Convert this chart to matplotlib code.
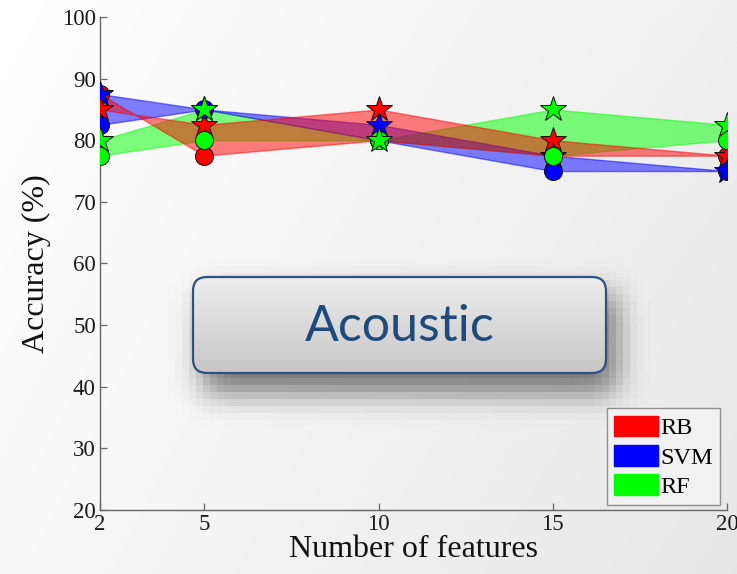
import numpy as np
import matplotlib
matplotlib.use("Agg")
import matplotlib.pyplot as plt
from matplotlib.patches import FancyBboxPatch, Patch

# ---- data -------------------------------------------------------------
n_features = [2, 5, 10, 15, 20]
rb_circle = [87.5, 77.5, 80.0, 77.5, 77.5]
rb_star = [85.0, 82.5, 85.0, 80.0, 77.5]
svm_circle = [82.5, 85.0, 80.0, 75.0, 75.0]
svm_star = [87.5, 85.0, 82.5, 77.5, 75.0]
rf_circle = [77.5, 80.0, 80.0, 77.5, 80.0]
rf_star = [80.0, 85.0, 80.0, 85.0, 82.5]
series_names = ["RB", "SVM", "RF"]
y_ticks = [20, 30, 40, 50, 60, 70, 80, 90, 100]
title_text = "Acoustic"

W, H, DPI = 737, 574, 100
fig = plt.figure(figsize=(W / DPI, H / DPI), dpi=DPI)

# ---- background layer (pixel coordinates) -----------------------------
bg = fig.add_axes([0, 0, 1, 1], zorder=0)
bg.axis("off")

yy, xx = np.mgrid[0:H, 0:W]
xf, yf = xx / W, yy / H
grad = 1.0 - 0.06 * xf - 0.025 * yf - 0.01 * xf * yf
bg.imshow(np.dstack([grad] * 3), extent=(0, W, H, 0), interpolation="bilinear",
          aspect="auto", zorder=0)

# blurred, blocky drop shadow under the label box
bx0, by0, bx1, by1 = 193, 277, 606, 373
blk = 7
gh, gw = H // blk + 1, W // blk + 1
cy, cx = np.mgrid[0:gh, 0:gw]
px, py = cx * blk + blk / 2, cy * blk + blk / 2
dx, dy = 13, 20
mask = ((px > bx0 + dx) & (px < bx1 + dx) & (py > by0 + dy) & (py < by1 + dy)).astype(float)
sig = 15 / blk
k = np.arange(-int(4 * sig), int(4 * sig) + 1)
ker = np.exp(-0.5 * (k / sig) ** 2)
ker /= ker.sum()
blur = np.apply_along_axis(lambda r: np.convolve(r, ker, mode="same"), 1, mask)
blur = np.apply_along_axis(lambda c: np.convolve(c, ker, mode="same"), 0, blur)
shadow = np.zeros((gh, gw, 4))
shadow[..., :3] = 0.12
shadow[..., 3] = 0.62 * blur
bg.imshow(shadow, extent=(0, gw * blk, gh * blk, 0), interpolation="nearest",
          aspect="auto", zorder=1)

# rounded label box with vertical gradient fill
box = FancyBboxPatch((bx0, by0), bx1 - bx0, by1 - by0,
                     boxstyle="round,pad=0,rounding_size=14",
                     facecolor="none", edgecolor="#2b5283", linewidth=1.6, zorder=3)
bg.add_patch(box)
g = np.linspace(0.93, 0.78, 100)[:, None]
fill = bg.imshow(np.dstack([g, g, g]), extent=(bx0, bx1, by1, by0),
                 aspect="auto", interpolation="bilinear", zorder=2)
fill.set_clip_path(box)
bg.text((bx0 + bx1) / 2, (by0 + by1) / 2 + 2, title_text, ha="center", va="center",
        fontsize=36, color="#1f4a7c", family=["Lato", "DejaVu Sans"],
        fontweight="normal", zorder=4)
bg.set_xlim(0, W)
bg.set_ylim(H, 0)

# ---- main chart -------------------------------------------------------
ax_l, ax_r, ax_t, ax_b = 100, 727, 17, 510
ax = fig.add_axes([ax_l / W, (H - ax_b) / H, (ax_r - ax_l) / W, (ax_b - ax_t) / H], zorder=1)
ax.patch.set_alpha(0)

serif = ["Liberation Serif", "DejaVu Serif"]
colors = ["#ff0000", "#0000ff", "#00ff00"]
circles = [rb_circle, svm_circle, rf_circle]
stars = [rb_star, svm_star, rf_star]

# bands: RF at the bottom, RB on top
for c, lo, hi in list(zip(colors, circles, stars))[::-1]:
    ax.fill_between(n_features, lo, hi, facecolor=c, alpha=0.5,
                    edgecolor=c, linewidth=1.0, zorder=2)
for c, lo, hi in zip(colors, circles, stars):
    ax.plot(n_features, lo, linestyle="none", marker="o", markersize=13,
            markerfacecolor=c, markeredgecolor="#111111", markeredgewidth=0.7, zorder=3)
    ax.plot(n_features, hi, linestyle="none", marker="*", markersize=19,
            markerfacecolor=c, markeredgecolor="#111111", markeredgewidth=0.7, zorder=3)

ax.set_xlim(2, 20)
ax.set_ylim(20, 100)
ax.set_xticks(n_features)
ax.set_yticks(y_ticks)
for s in ("top", "right"):
    ax.spines[s].set_visible(False)
for s in ("left", "bottom"):
    ax.spines[s].set_color("#666666")
    ax.spines[s].set_linewidth(1.0)
ax.tick_params(direction="in", length=5, width=0.9, color="#666666",
               labelsize=16.5, labelcolor="#1a1a1a", pad=3)
for lab in ax.get_xticklabels() + ax.get_yticklabels():
    lab.set_family(serif)
ax.set_xlabel("Number of features", fontsize=23, family=serif, color="#111111", labelpad=0)
ax.set_ylabel("Accuracy (%)", fontsize=23, family=serif, color="#111111", labelpad=8)

handles = [Patch(facecolor=c, edgecolor=c) for c in colors]
leg = ax.legend(handles, series_names, loc="lower right",
                bbox_to_anchor=(1 - 7 / (ax_r - ax_l), 5 / (ax_b - ax_t)),
                borderaxespad=0, fancybox=False, framealpha=0.85,
                facecolor="#f3f3f3", edgecolor="#808080",
                prop={"family": serif, "size": 17.5},
                handlelength=1.8, handleheight=0.95, handletextpad=0.1,
                labelspacing=0.22, borderpad=0.3)
leg.get_frame().set_linewidth(1.0)

fig.savefig("out.png", dpi=DPI)
